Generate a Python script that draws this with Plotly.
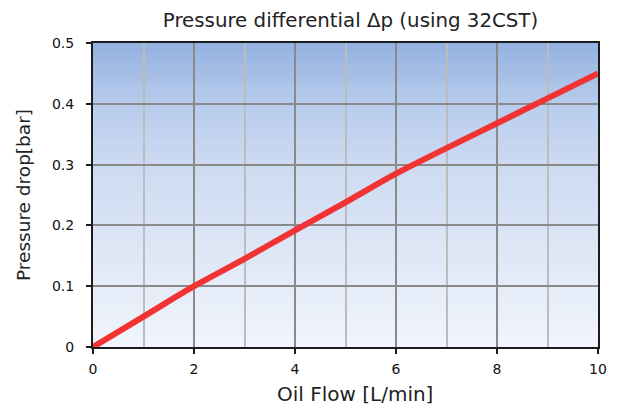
import plotly.graph_objects as go

flow = [0, 1, 2, 3, 4, 5, 6, 7, 8, 9, 10]
pressure_drop = [0.0, 0.05, 0.10, 0.145, 0.192, 0.238, 0.285, 0.327, 0.368, 0.409, 0.45]

x_tick_vals = [0, 2, 4, 6, 8, 10]
y_tick_vals = [0, 0.1, 0.2, 0.3, 0.4, 0.5]

title_text = "Pressure differential Δp (using 32CST)"
x_title = "Oil Flow [L/min]"
y_title = "Pressure drop[bar]"

# gradient stops (fraction of plot height from bottom, rgb)
grad_stops = [(0.0, (241, 245, 252)), (0.2, (229, 236, 248)), (0.4, (216, 227, 244)),
              (0.6, (204, 218, 241)), (0.8, (184, 204, 237)), (1.0, (147, 177, 223))]


def grad_color(t):
    for (t0, c0), (t1, c1) in zip(grad_stops[:-1], grad_stops[1:]):
        if t0 <= t <= t1:
            f = (t - t0) / (t1 - t0)
            c = [round(a + (b - a) * f) for a, b in zip(c0, c1)]
            return "rgb(%d,%d,%d)" % tuple(c)
    return "rgb(%d,%d,%d)" % grad_stops[-1][1]


n = 80
shapes = []
for i in range(n):
    y0 = i / n
    y1 = (i + 1) / n
    shapes.append(dict(type="rect", xref="x domain", yref="y domain",
                       x0=0, x1=1, y0=y0, y1=y1 + 0.002, layer="below",
                       line=dict(width=0), fillcolor=grad_color((y0 + y1) / 2)))

fig = go.Figure()
fig.add_trace(go.Scatter(x=flow, y=pressure_drop, mode="lines",
                         line=dict(color="#f23333", width=6, shape="spline"),
                         showlegend=False, hoverinfo="skip"))

# page body has an 8px margin, so the figure is 8px smaller and margins shifted
fig.update_layout(
    width=611, height=401,
    margin=dict(l=85, r=21, t=35, b=62, autoexpand=False),
    paper_bgcolor="white", plot_bgcolor="white",
    shapes=shapes,
    title=dict(text=title_text, x=0.5 + 5 / 505, xref="paper", xanchor="center",
               y=(401 - 19) / 401, yref="container", yanchor="bottom",
               font=dict(family="DejaVu Sans", size=19.8, color="#222222")),
    annotations=[dict(text=x_title, x=0.5 + 9 / 505, xref="paper", xanchor="center",
                      y=0, yref="paper", yanchor="top", yshift=-33, showarrow=False,
                      font=dict(family="DejaVu Sans", size=20, color="#222222"))],
    xaxis=dict(range=[0, 10], tickvals=x_tick_vals, showgrid=True,
               gridcolor="#8a8a8a", gridwidth=2,
               minor=dict(dtick=1, tick0=0, showgrid=True, gridcolor="#bcbcbc",
                          gridwidth=2, ticks=""),
               showline=True, linecolor="#1c1c1c", linewidth=2, mirror=True,
               ticks="outside", ticklen=5, tickwidth=2, tickcolor="#1c1c1c",
               zeroline=False, ticklabelstandoff=3,
               tickfont=dict(family="DejaVu Sans", size=14, color="#111111")),
    yaxis=dict(range=[0, 0.5], tickvals=y_tick_vals, showgrid=True,
               gridcolor="#8a8a8a", gridwidth=2,
               showline=True, linecolor="#1c1c1c", linewidth=2, mirror=True,
               ticks="outside", ticklen=5, tickwidth=2, tickcolor="#1c1c1c",
               zeroline=False, ticklabelstandoff=9,
               tickfont=dict(family="DejaVu Sans", size=14, color="#111111"),
               title=dict(text=y_title, standoff=16,
                          font=dict(family="DejaVu Sans", size=18.5, color="#222222"))),
)

fig.write_html("out.html")
